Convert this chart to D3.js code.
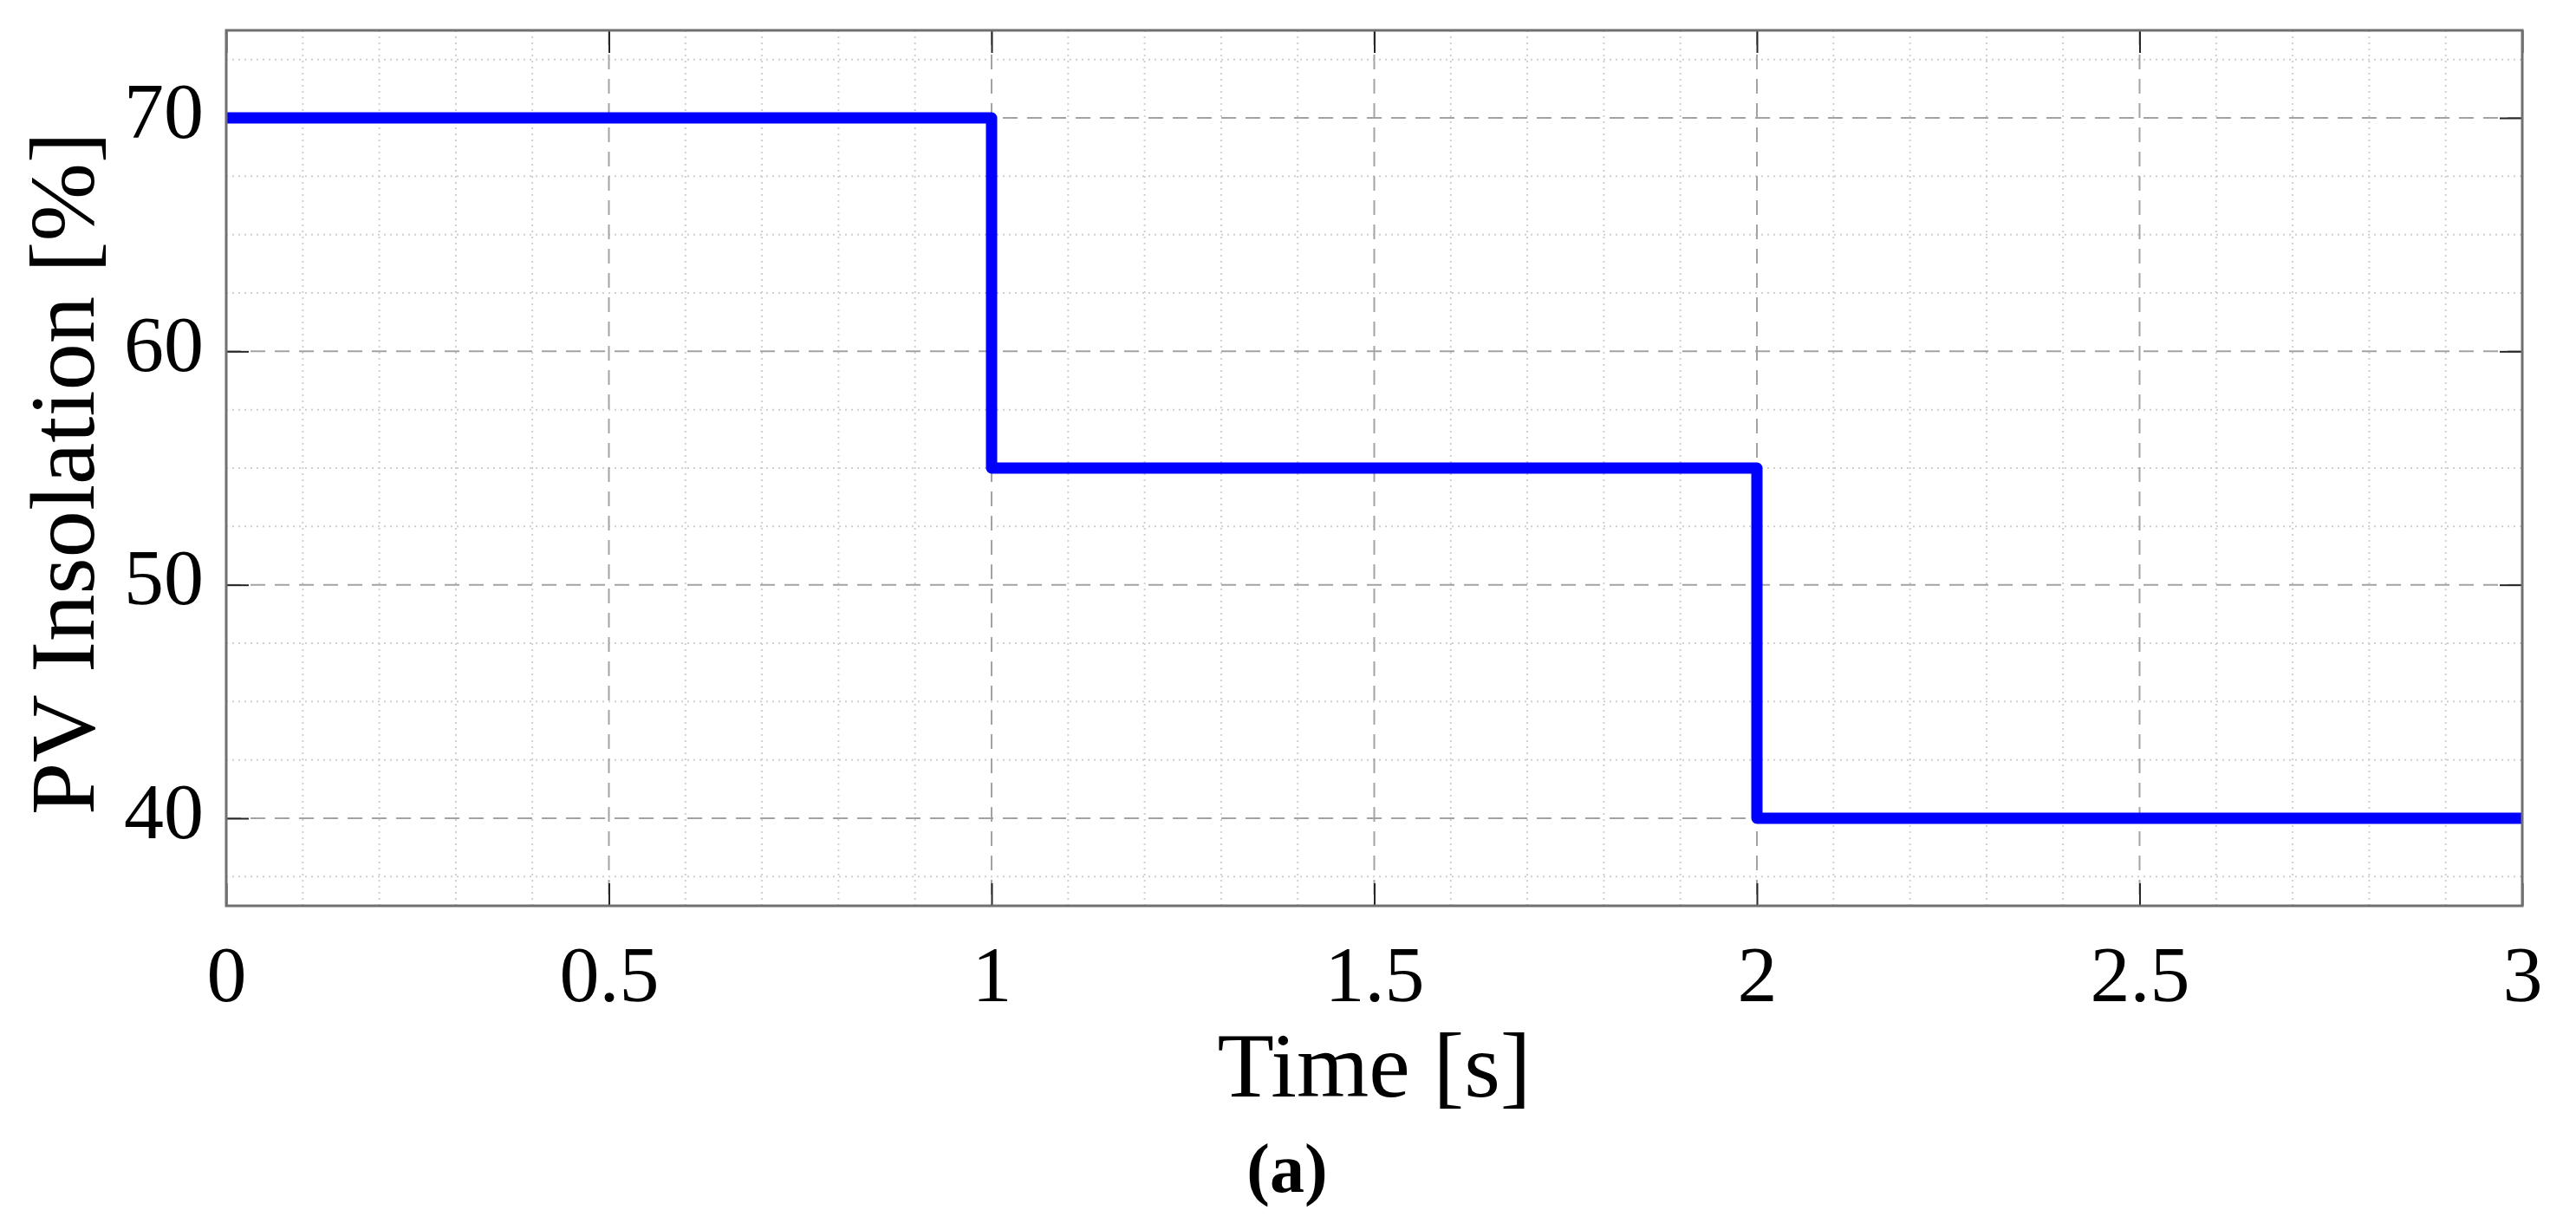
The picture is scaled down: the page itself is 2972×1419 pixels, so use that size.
<!DOCTYPE html>
<html>
<head>
<meta charset="utf-8">
<script src="https://cdn.jsdelivr.net/npm/d3@7"></script>
<style>
    body { margin: 0; background: #fff; }
    svg { display: block; }
    .tick text { font-family: "Palatino Linotype", "Book Antiqua", Palatino, "Liberation Serif", serif; fill: #000; }
</style>
</head>
<body>
<svg id="chart" width="2972" height="1419"></svg>
<script>
// step input of the PV source
const timeValues = [0, 1, 1, 2, 2, 3]
const insolationValues = [70, 70, 55, 55, 40, 40]

const xTicks = [0, 0.5, 1, 1.5, 2, 2.5, 3]
const xTickLabels = ["0", "0.5", "1", "1.5", "2", "2.5", "3"]
const yTicks = [40, 50, 60, 70]
const yTickLabels = ["40", "50", "60", "70"]
const xLimits = [0, 3]
const yLimits = [36.25, 73.75]

const xLabel = "Time [s]"
const yLabel = "PV Insolation [%]"
const caption = "(a)"

const serif = "'Palatino Linotype', 'Book Antiqua', Palatino, 'Liberation Serif', serif"

const svg = d3.select("#chart")
const margin = {top: 35, right: 62, bottom: 374, left: 261}
const width = +svg.attr("width") - margin.left - margin.right
const height = +svg.attr("height") - margin.top - margin.bottom

const focus = svg.append("g").attr("transform", "translate(" + margin.left + "," + margin.top + ")")

const x = d3.scaleLinear().domain(xLimits).range([0, width])
const y = d3.scaleLinear().domain(yLimits).range([height, 0])

// minor grid, dotted
const xMinor = d3.range(0.1, 3, 0.1).filter(v => Math.abs(v * 2 - Math.round(v * 2)) > 1e-6)
const yMinor = d3.range(37.5, 73.75, 2.5).filter(v => v % 10 !== 0)

focus.append("g").selectAll("line")
    .data(xMinor)
    .enter().append("line")
    .attr("x1", d => x(d)).attr("x2", d => x(d))
    .attr("y1", 0).attr("y2", height)
    .attr("stroke", "#cfcfcf").attr("stroke-width", 2).attr("stroke-dasharray", "2,5")

focus.append("g").selectAll("line")
    .data(yMinor)
    .enter().append("line")
    .attr("x1", 0).attr("x2", width)
    .attr("y1", d => y(d)).attr("y2", d => y(d))
    .attr("stroke", "#cfcfcf").attr("stroke-width", 2).attr("stroke-dasharray", "2,5")

// major grid, dashed
focus.append("g").selectAll("line")
    .data(xTicks.slice(1, -1))
    .enter().append("line")
    .attr("x1", d => x(d)).attr("x2", d => x(d))
    .attr("y1", 0).attr("y2", height)
    .attr("stroke", "#a3a3a3").attr("stroke-width", 2).attr("stroke-dasharray", "17,11")

focus.append("g").selectAll("line")
    .data(yTicks)
    .enter().append("line")
    .attr("x1", 0).attr("x2", width)
    .attr("y1", d => y(d)).attr("y2", d => y(d))
    .attr("stroke", "#a3a3a3").attr("stroke-width", 2).attr("stroke-dasharray", "17,11")

// axes with inward ticks on all four sides
const tickLen = 26

const axisX = d3.axisBottom(x).tickValues(xTicks).tickFormat((d, i) => xTickLabels[i])
    .tickSizeInner(-tickLen).tickSizeOuter(0)
const axisY = d3.axisLeft(y).tickValues(yTicks).tickFormat((d, i) => yTickLabels[i])
    .tickSizeInner(-tickLen).tickSizeOuter(0)

const gx = focus.append("g")
    .attr("class", "axis axis--x")
    .attr("transform", "translate(0," + height + ")")
    .call(axisX)
gx.selectAll("text").attr("y", 110).attr("dy", null).style("font-size", "92px")

const gy = focus.append("g")
    .attr("class", "axis axis--y")
    .call(axisY)
gy.selectAll("text").attr("x", -26).attr("dy", null).attr("y", 22).style("font-size", "92px")

focus.append("g")
    .call(d3.axisTop(x).tickValues(xTicks).tickFormat("").tickSizeInner(-tickLen).tickSizeOuter(0))
focus.append("g")
    .attr("transform", "translate(" + width + ",0)")
    .call(d3.axisRight(y).tickValues(yTicks).tickFormat("").tickSizeInner(-tickLen).tickSizeOuter(0))

focus.selectAll(".domain").remove()
focus.selectAll(".tick line").attr("stroke", "#262626").attr("stroke-width", 2)

// data line
const line = d3.line()
    .x((d, i) => x(timeValues[i]))
    .y(d => y(d))

focus.append("path")
    .datum(insolationValues)
    .attr("d", line)
    .attr("fill", "none")
    .attr("stroke", "#0000ff")
    .attr("stroke-width", 13)
    .attr("stroke-linejoin", "round")

// box
focus.append("rect")
    .attr("width", width)
    .attr("height", height)
    .attr("fill", "none")
    .attr("stroke", "#707070")
    .attr("stroke-width", 3)

// labels
svg.append("text")
    .attr("x", margin.left + width / 2)
    .attr("y", 1265)
    .attr("text-anchor", "middle")
    .attr("font-family", serif)
    .attr("font-size", 106)
    .attr("textLength", 362)
    .attr("lengthAdjust", "spacingAndGlyphs")
    .text(xLabel)

svg.append("text")
    .attr("transform", "translate(108," + 546 + ") rotate(-90)")
    .attr("text-anchor", "middle")
    .attr("font-family", serif)
    .attr("font-size", 106)
    .attr("textLength", 788)
    .attr("lengthAdjust", "spacingAndGlyphs")
    .text(yLabel)

svg.append("text")
    .attr("x", 1485)
    .attr("y", 1375)
    .attr("text-anchor", "middle")
    .attr("font-family", serif)
    .attr("font-weight", "bold")
    .attr("font-size", 80)
    .text(caption)
</script>
</body>
</html>
